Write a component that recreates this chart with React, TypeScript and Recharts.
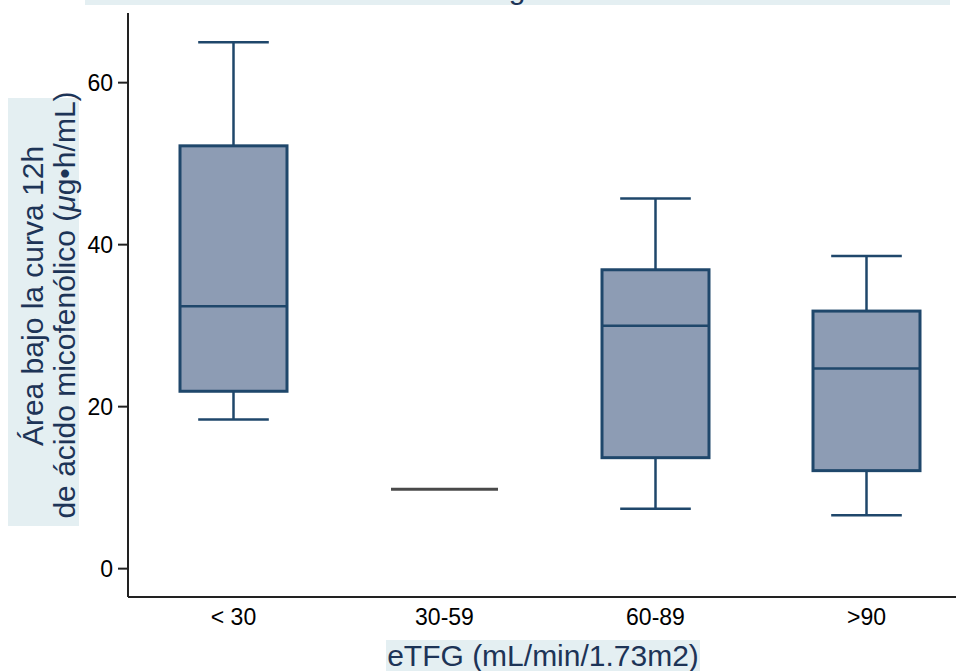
import React from "react";
import { ComposedChart, Bar, XAxis, YAxis } from "recharts";

// AUC 12h of mycophenolic acid by eGFR group
const groups = ["< 30", "30-59", "60-89", ">90"];
const mins = [18.4, 9.8, 7.4, 6.6];
const q1s = [21.9, 9.8, 13.7, 12.1];
const medians = [32.4, 9.8, 30.0, 24.7];
const q3s = [52.2, 9.8, 36.9, 31.8];
const maxs = [65.0, 9.8, 45.7, 38.6];
const yTicks = [0, 20, 40, 60];

const data = groups.map((group, i) => ({
  group,
  min: mins[i],
  q1: q1s[i],
  median: medians[i],
  q3: q3s[i],
  max: maxs[i],
}));

const FONT = '"Liberation Sans", Arial, Helvetica, sans-serif';
const NAVY = "#1f476b";
const BOX_FILL = "#8d9cb4";
const LABEL_BG = "#e4eff2";
const LABEL_INK = "#1d3457";
const AXIS = "#222222";

const BoxShape = (props: any) => {
  const { x, y, width, height, payload } = props;
  const { min, q1, median, q3, max } = payload;
  const top = Math.min(y, y + height);
  const bottom = Math.max(y, y + height);
  const span = max - min;
  const toY = (v: number) => (span === 0 ? top : top + ((max - v) / span) * (bottom - top));
  const cx = x + width / 2;

  // single observation: just a flat line
  if (q1 === q3) {
    return <line x1={x} x2={x + width} y1={toY(median)} y2={toY(median)} stroke="#4a4a4a" strokeWidth={3} />;
  }

  const cap = width * 0.33;
  return (
    <g>
      <line x1={cx} x2={cx} y1={toY(max)} y2={toY(q3)} stroke={NAVY} strokeWidth={2.5} />
      <line x1={cx} x2={cx} y1={toY(q1)} y2={toY(min)} stroke={NAVY} strokeWidth={2.5} />
      <line x1={cx - cap} x2={cx + cap} y1={toY(max)} y2={toY(max)} stroke={NAVY} strokeWidth={2.5} />
      <line x1={cx - cap} x2={cx + cap} y1={toY(min)} y2={toY(min)} stroke={NAVY} strokeWidth={2.5} />
      <rect x={x} y={toY(q3)} width={width} height={toY(q1) - toY(q3)} fill={BOX_FILL} stroke={NAVY} strokeWidth={3} />
      <line x1={x} x2={x + width} y1={toY(median)} y2={toY(median)} stroke={NAVY} strokeWidth={2.5} />
    </g>
  );
};

const XTitle = (props: any) => {
  const { x, width } = props.viewBox;
  const cx = x + width / 2 - 7;
  return (
    <g>
      <rect x={cx - 157} y={640} width={314} height={40} fill={LABEL_BG} />
      <text x={cx} y={666} textAnchor="middle" fontFamily={FONT} fontSize={30} fill={LABEL_INK}>
        eTFG (mL/min/1.73m2)
      </text>
    </g>
  );
};

const YTitle = () => (
  <g>
    <rect x={8} y={98} width={71} height={428} fill={LABEL_BG} />
    <text transform="translate(43,296) rotate(-90)" textAnchor="middle" fontFamily={FONT} fontSize={30} fill={LABEL_INK}>
      Área bajo la curva 12h
    </text>
    <text transform="translate(75,305) rotate(-90)" textAnchor="middle" fontFamily={FONT} fontSize={30} fill={LABEL_INK}>
      de ácido micofenólico (<tspan fontStyle="italic">μ</tspan>g•h/mL)
    </text>
  </g>
);

export default function App() {
  return (
    <div style={{ position: "absolute", left: 0, top: 0, width: 956, height: 671, overflow: "hidden", background: "#fff" }}>
      <ComposedChart
        width={1000}
        height={671}
        data={data}
        margin={{ top: 13, right: 28, bottom: 0, left: 0 }}
      >
        <XAxis
          dataKey="group"
          height={74}
          interval={0}
          tickLine={false}
          tickSize={0}
          tickMargin={12}
          axisLine={{ stroke: AXIS, strokeWidth: 2 }}
          tick={{ fontSize: 23, fill: "#000", fontFamily: FONT }}
          label={<XTitle />}
        />
        <YAxis
          width={128}
          domain={[-3.5, 68.6]}
          ticks={yTicks}
          allowDataOverflow
          tickSize={10}
          tickMargin={5}
          axisLine={{ stroke: AXIS, strokeWidth: 2 }}
          tickLine={{ stroke: AXIS, strokeWidth: 2 }}
          tick={{ fontSize: 23, fill: "#000", fontFamily: FONT }}
          label={<YTitle />}
        />
        <Bar
          dataKey={(d: any) => [d.min, d.max]}
          barSize={107}
          shape={BoxShape}
          isAnimationActive={false}
        />
      </ComposedChart>
      <svg width={956} height={10} style={{ position: "absolute", left: 0, top: 0, pointerEvents: "none" }}>
        <rect x={85} y={0} width={865} height={5} fill={LABEL_BG} />
        <text x={518} y={-1} textAnchor="middle" fontFamily={FONT} fontSize={30} fill={LABEL_INK}>
          según
        </text>
      </svg>
    </div>
  );
}
